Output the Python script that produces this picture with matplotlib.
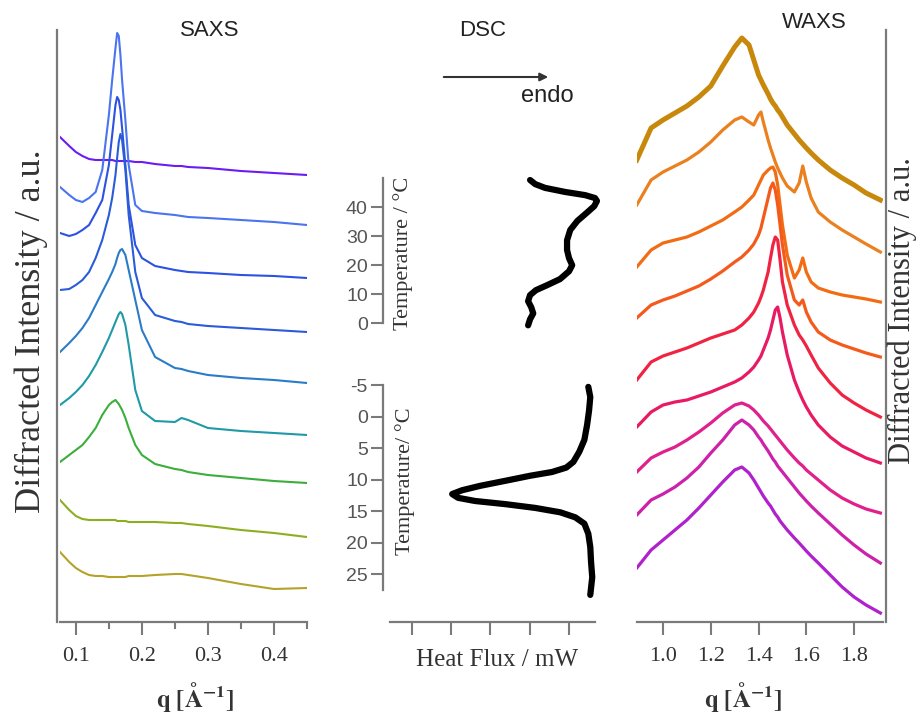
import matplotlib
matplotlib.use("Agg")
import matplotlib.pyplot as plt

W, H = 918, 716

plt.rcParams.update({
    "font.family": "serif",
    "font.serif": ["Liberation Serif", "DejaVu Serif"],
    "mathtext.fontset": "stix",
    "axes.linewidth": 1.5,
    "axes.unicode_minus": False,
})

GREY = "#7a7a7a"
SANS = "Liberation Sans"

# --- SAXS: stacked curves, top to bottom (intensity in a.u., offsets included)
q_saxs = [0.076, 0.09, 0.10, 0.11, 0.12, 0.13, 0.14, 0.15, 0.155, 0.16, 0.1625,
          0.165, 0.1675, 0.17, 0.175, 0.18, 0.19, 0.20, 0.22, 0.25, 0.26, 0.27,
          0.30, 0.35, 0.40, 0.45]
saxs_1 = [485, 476, 470, 466, 463, 462, 462, 462, 462, 461, 461, 461, 461, 461, 461, 461,
          460, 460, 458, 456, 456, 455, 454, 451, 449, 447]
saxs_2 = [435, 427, 422, 420, 424, 430, 452, 507, 542, 574, 589, 586, 567, 542, 502, 457,
          417, 411, 409, 407, 406, 405, 404, 402, 400, 397]
saxs_3 = [389, 386, 388, 392, 397, 409, 422, 457, 487, 517, 525, 522, 512, 494, 457, 417,
          377, 364, 356, 352, 351, 350, 349, 347, 346, 344]
saxs_4 = [332, 333, 337, 342, 350, 364, 382, 407, 424, 447, 464, 480, 488, 482, 452, 407,
          350, 324, 307, 301, 300, 298, 296, 294, 292, 290]
saxs_5 = [270, 279, 286, 294, 304, 317, 330, 343, 350, 358, 364, 369, 372, 373, 367, 352,
          322, 292, 265, 254, 253, 251, 247, 244, 242, 239]
saxs_6 = [217, 224, 230, 237, 246, 257, 270, 284, 292, 300, 304, 308, 310, 308, 297, 277,
          232, 211, 201, 200, 204, 202, 194, 191, 189, 187]
saxs_7 = [160, 167, 172, 177, 185, 194, 207, 217, 220, 222, 220, 218, 215, 212, 204, 194,
          177, 167, 158, 153, 152, 150, 147, 144, 141, 139]
saxs_8 = [122, 112, 106, 103, 102, 102, 102, 102, 102, 102, 101, 101, 101, 101, 101, 100,
          100, 100, 100, 99, 99, 98, 96, 92, 89, 85]
saxs_9 = [70, 60, 54, 50, 47, 46, 46, 45, 45, 45, 45, 45, 45, 45, 45, 46,
          46, 46, 47, 48, 48, 47, 44, 38, 33, 34]
saxs_curves = [saxs_1, saxs_2, saxs_3, saxs_4, saxs_5, saxs_6, saxs_7, saxs_8, saxs_9]
saxs_colors = ["#6a1cf2", "#4a74f0", "#2c52e2", "#2a5cd8", "#2a7cc6",
               "#1f9aa6", "#3cae3c", "#8eae22", "#b4a22a"]

# --- WAXS: stacked curves, top to bottom
q_waxs = [0.89, 0.95, 1.0, 1.05, 1.10, 1.15, 1.20, 1.25, 1.30, 1.33, 1.36, 1.38, 1.40,
          1.41, 1.42, 1.44, 1.45, 1.46, 1.47, 1.48, 1.49, 1.50, 1.52, 1.55, 1.57, 1.585,
          1.60, 1.62, 1.65, 1.70, 1.75, 1.80, 1.85, 1.91]
waxs_1 = [462, 494, 502, 509, 516, 525, 536, 556, 575, 584, 577, 562, 547, 542, 537, 528,
          523, 519, 516, 512, 509, 505, 497, 488, 482, 478, 474, 469, 462, 452, 444, 437,
          429, 422]
waxs_2 = [417, 442, 450, 456, 462, 470, 480, 492, 502, 505, 500, 497, 507, 510, 500, 482,
          474, 467, 460, 454, 449, 444, 436, 430, 439, 456, 440, 424, 410, 400, 392, 385,
          378, 370]
waxs_3 = [355, 372, 379, 382, 385, 390, 396, 402, 410, 415, 422, 427, 437, 442, 447, 452,
          454, 455, 450, 437, 417, 397, 367, 344, 352, 364, 350, 340, 334, 330, 327, 325,
          323, 320]
waxs_4 = [304, 317, 322, 326, 331, 336, 343, 351, 360, 365, 372, 378, 387, 394, 404, 424,
          434, 439, 432, 417, 397, 377, 347, 322, 317, 322, 310, 300, 290, 282, 277, 273,
          269, 265]
waxs_5 = [242, 260, 266, 270, 274, 279, 284, 288, 292, 297, 304, 310, 319, 325, 332, 350,
          364, 377, 385, 382, 362, 340, 317, 297, 287, 282, 276, 267, 254, 239, 227, 219,
          212, 205]
waxs_6 = [195, 210, 217, 220, 222, 226, 230, 235, 240, 244, 250, 255, 262, 266, 272, 284,
          292, 302, 312, 315, 304, 290, 267, 242, 230, 222, 215, 207, 197, 185, 176, 170,
          164, 159]
waxs_7 = [150, 164, 170, 175, 182, 190, 199, 209, 217, 219, 216, 212, 207, 204, 201, 196,
          193, 190, 187, 184, 181, 178, 172, 164, 159, 156, 152, 148, 142, 132, 124, 118,
          113, 109]
waxs_8 = [107, 122, 128, 135, 144, 155, 169, 182, 197, 202, 197, 192, 185, 182, 178, 171,
          167, 163, 160, 156, 153, 150, 144, 135, 129, 125, 121, 116, 109, 98, 87, 77,
          68, 59]
waxs_9 = [54, 72, 82, 92, 102, 114, 127, 140, 152, 155, 149, 142, 134, 130, 126, 119,
          116, 112, 108, 105, 101, 98, 92, 84, 79, 75, 71, 66, 59, 47, 35, 25,
          17, 9]
waxs_curves = [waxs_1, waxs_2, waxs_3, waxs_4, waxs_5, waxs_6, waxs_7, waxs_8, waxs_9]
waxs_colors = ["#c8880c", "#ea801e", "#f26c14", "#f45a1c", "#f02442",
               "#e81a64", "#e0208c", "#cc22aa", "#b020cc"]

# --- DSC: heating (top) and cooling (bottom) traces
heat_T = [49.3, 47.9, 46.6, 45.2, 44.1, 43.1, 42.1, 40.3, 37.9, 35.2, 32.1, 28.6, 25.2,
          22.4, 20.0, 17.9, 15.2, 13.1, 11.4, 9.7, 7.6, 5.5, 3.4, 1.4, -0.7]
heat_flux = [3.01, 3.14, 3.39, 3.90, 4.41, 4.66, 4.71, 4.64, 4.44, 4.21, 4.03, 3.95, 3.95,
             4.00, 4.08, 4.00, 3.77, 3.44, 3.16, 3.01, 2.96, 3.04, 3.09, 3.01, 2.96]
cool_T = [-4.7, -3.1, -1.0, 1.3, 3.7, 5.6, 7.2, 8.1, 8.8, 9.4, 10.2, 11.0, 11.7, 12.3,
          12.9, 13.4, 13.9, 14.5, 15.2, 16.0, 17.0, 18.6, 20.7, 23.1, 25.5, 28.3]
cool_flux = [4.49, 4.54, 4.51, 4.46, 4.39, 4.26, 4.11, 3.93, 3.57, 3.01, 2.38, 1.74, 1.28,
             1.03, 1.18, 1.61, 2.38, 3.14, 3.78, 4.16, 4.39, 4.49, 4.54, 4.56, 4.59, 4.54]


def px_rect(left, top, right, bottom):
    return [left / W, 1 - bottom / H, (right - left) / W, (bottom - top) / H]


def px_text(x, y, s, **kw):
    fig.text(x / W, 1 - y / H, s, **kw)


def style_spine(sp, outward=0):
    sp.set_color(GREY)
    sp.set_linewidth(1.6)
    if outward:
        sp.set_position(("outward", outward))


fig = plt.figure(figsize=(W / 100, H / 100), dpi=100)

# SAXS panel
ax_s = fig.add_axes(px_rect(60, 30, 307, 622))
for y, c in zip(saxs_curves, saxs_colors):
    ax_s.plot(q_saxs, y, color=c, lw=1.5)
ax_s.set_xlim(0.076, 0.45)
ax_s.set_ylim(0, 592)
ax_s.spines["top"].set_visible(False)
ax_s.spines["right"].set_visible(False)
style_spine(ax_s.spines["left"], 2.5)
style_spine(ax_s.spines["bottom"])
ax_s.set_yticks([])
ax_s.set_xticks([0.1, 0.2, 0.3, 0.4])
ax_s.set_xticklabels(["0.1", "0.2", "0.3", "0.4"])
ax_s.set_xticks([0.15, 0.25, 0.35, 0.45], minor=True)
ax_s.tick_params(axis="x", which="major", direction="out", length=9, width=1.5,
                 color=GREY, labelsize=16, pad=9, labelcolor="#333333")
ax_s.tick_params(axis="x", which="minor", direction="out", length=5, width=1.5, color=GREY)

# WAXS panel (top trace is much noisier, drawn heavier)
ax_w = fig.add_axes(px_rect(637, 30, 883, 622))
for i, (y, c) in enumerate(zip(waxs_curves, waxs_colors)):
    ax_w.plot(q_waxs, y, color=c, lw=3.6 if i == 0 else 2.3)
ax_w.set_xlim(0.891, 1.921)
ax_w.set_ylim(0, 592)
ax_w.spines["top"].set_visible(False)
ax_w.spines["left"].set_visible(False)
style_spine(ax_w.spines["right"], 2.5)
style_spine(ax_w.spines["bottom"])
ax_w.set_yticks([])
ax_w.set_xticks([1.0, 1.2, 1.4, 1.6, 1.8])
ax_w.set_xticklabels(["1.0", "1.2", "1.4", "1.6", "1.8"])
ax_w.tick_params(axis="x", direction="out", length=9, width=1.5, color=GREY,
                 labelsize=16, pad=9, labelcolor="#333333")

# DSC heating trace
ax_h = fig.add_axes(px_rect(390, 178, 595, 332))
ax_h.plot(heat_flux, heat_T, color="black", lw=4.5, solid_capstyle="round",
          solid_joinstyle="round", clip_on=False)
ax_h.set_xlim(-0.55, 4.66)
ax_h.set_ylim(-3, 50)
for side in ["top", "right", "bottom"]:
    ax_h.spines[side].set_visible(False)
style_spine(ax_h.spines["left"], 5)
ax_h.spines["left"].set_bounds(0, 50)
ax_h.set_xticks([])
ax_h.set_yticks([0, 10, 20, 30, 40])
ax_h.tick_params(axis="y", direction="out", length=9, width=1.5, color=GREY,
                 labelsize=14, labelcolor="#555555", pad=2)
for lab in ax_h.get_yticklabels():
    lab.set_family(SANS)

# DSC cooling trace
ax_c = fig.add_axes(px_rect(390, 385, 595, 622))
ax_c.plot(cool_flux, cool_T, color="black", lw=4.5, solid_capstyle="round",
          solid_joinstyle="round", clip_on=False)
ax_c.set_xlim(-0.55, 4.66)
ax_c.set_ylim(32.6, -5)
for side in ["top", "right"]:
    ax_c.spines[side].set_visible(False)
style_spine(ax_c.spines["left"], 5)
ax_c.spines["left"].set_bounds(-5, 27.5)
style_spine(ax_c.spines["bottom"])
ax_c.set_xticks([0, 1, 2, 3, 4])
ax_c.set_xticklabels([])
ax_c.set_yticks([-5, 0, 5, 10, 15, 20, 25])
ax_c.tick_params(axis="y", direction="out", length=9, width=1.5, color=GREY,
                 labelsize=14, labelcolor="#555555", pad=2)
ax_c.tick_params(axis="x", direction="out", length=9, width=1.5, color=GREY)
for lab in ax_c.get_yticklabels():
    lab.set_family(SANS)

# titles and labels
px_text(210, 30, "SAXS", family=SANS, fontsize=16, ha="center", va="center", color="#222222")
px_text(483, 30, "DSC", family=SANS, fontsize=16, ha="center", va="center", color="#222222")
px_text(814, 22, "WAXS", family=SANS, fontsize=16, ha="center", va="center", color="#222222")
px_text(547, 96, "endo", family=SANS, fontsize=17, ha="center", va="center", color="#222222")
fig.patches.append(matplotlib.patches.FancyArrowPatch(
    (441 / W, 1 - 77 / H), (551 / W, 1 - 77 / H), transform=fig.transFigure,
    arrowstyle="-|>", mutation_scale=12, color="#333333", lw=1.5))

px_text(31, 331, "Diffracted Intensity / a.u.", fontsize=26, rotation=90,
        ha="center", va="center", color="#333333")
px_text(902, 311, "Diffracted Intensity / a.u.", fontsize=22, rotation=90,
        ha="center", va="center", color="#333333")
px_text(403, 253, "Temperature / °C", fontsize=16, rotation=90,
        ha="center", va="center", color="#333333")
px_text(405, 481, "Temperature/ °C", fontsize=16, rotation=90,
        ha="center", va="center", color="#333333")
px_text(497, 660, "Heat Flux / mW", fontsize=18, ha="center", va="center", color="#333333")
qlabel = r"$\mathbf{q\ [Å^{-1}]}$"
px_text(195, 697, qlabel, fontsize=18, ha="center", va="center", color="#333333")
px_text(743, 697, qlabel, fontsize=18, ha="center", va="center", color="#333333")

fig.savefig("out.png", dpi=100)
